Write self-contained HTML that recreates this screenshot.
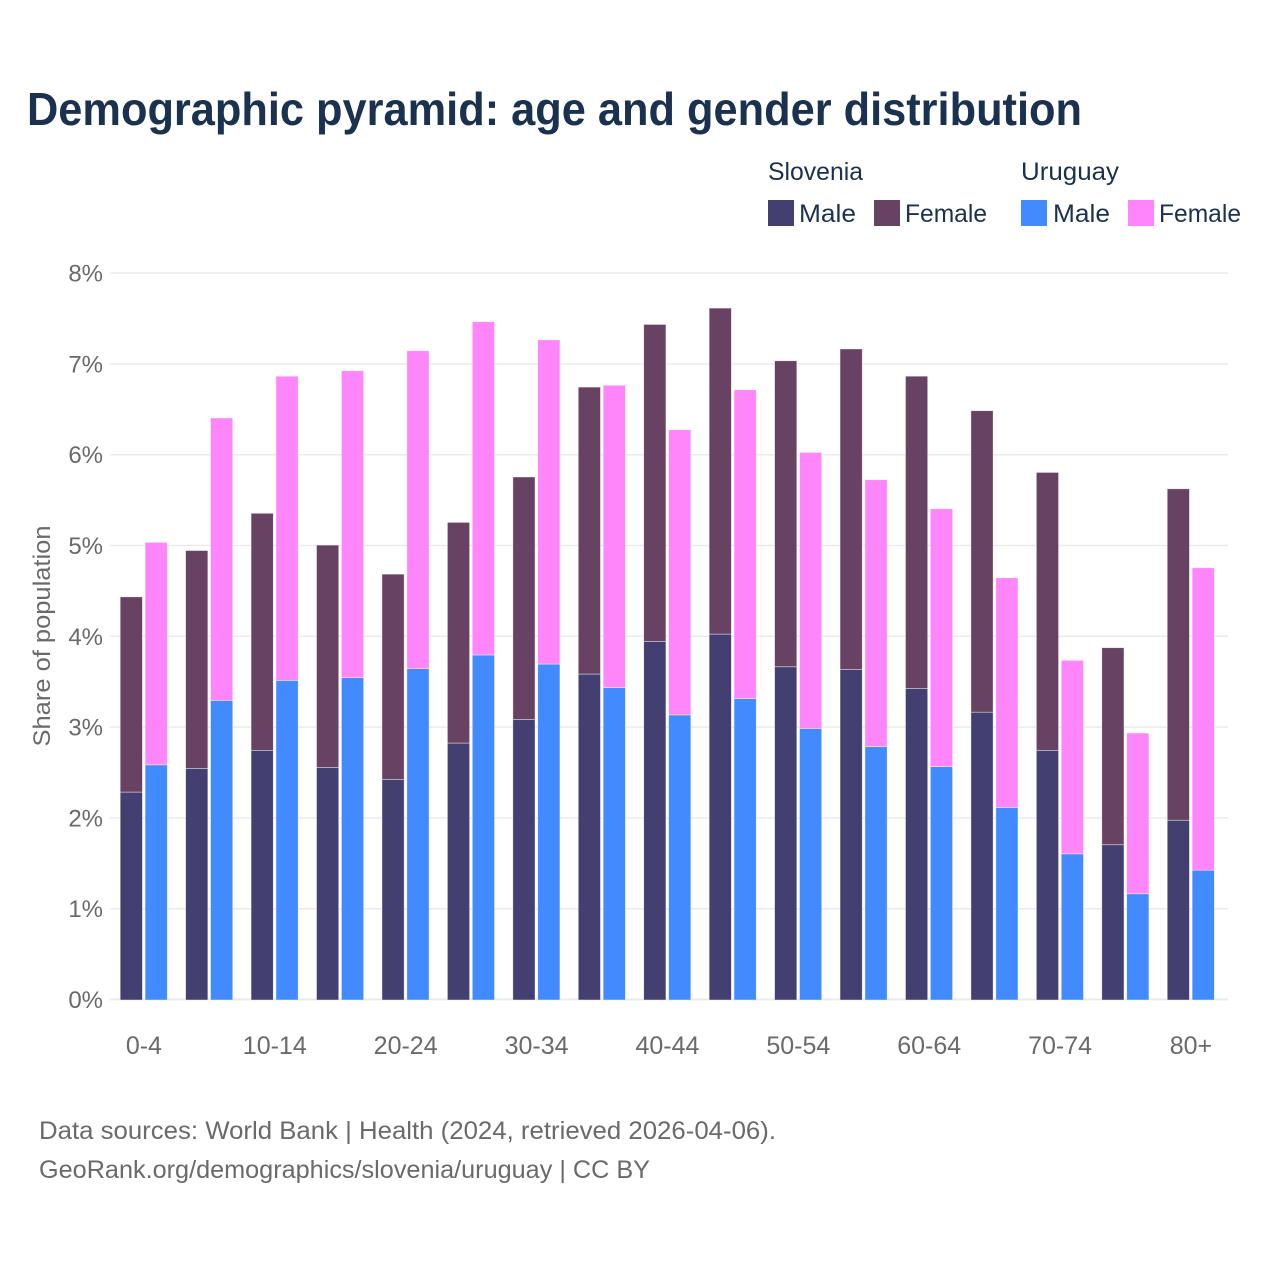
<!DOCTYPE html>
<html>
<head>
<meta charset="utf-8">
<title>Demographic pyramid</title>
<style>
html,body{margin:0;padding:0;background:#fff;width:1280px;height:1280px;overflow:hidden}
svg{display:block;font-family:"Liberation Sans",sans-serif}
</style>
</head>
<body>
<svg id="chart" width="1280" height="1280" viewBox="0 0 1280 1280">
<text x="27" y="125" font-size="46" font-weight="700" fill="#1a3150" textLength="1055" lengthAdjust="spacingAndGlyphs">Demographic pyramid: age and gender distribution</text>
<g font-size="25" fill="#1a3150">
<text x="768" y="180" textLength="95" lengthAdjust="spacingAndGlyphs">Slovenia</text>
<text x="1021" y="180" textLength="98" lengthAdjust="spacingAndGlyphs">Uruguay</text>
<rect x="768" y="200" width="26" height="26" fill="#433f70"/>
<text x="799" y="222" textLength="57" lengthAdjust="spacingAndGlyphs">Male</text>
<rect x="874" y="200" width="26" height="26" fill="#684262"/>
<text x="905" y="222" textLength="82" lengthAdjust="spacingAndGlyphs">Female</text>
<rect x="1021" y="200" width="26" height="26" fill="#418aff"/>
<text x="1053" y="222" textLength="57" lengthAdjust="spacingAndGlyphs">Male</text>
<rect x="1128" y="200" width="26" height="26" fill="#ff85fb"/>
<text x="1159" y="222" textLength="82" lengthAdjust="spacingAndGlyphs">Female</text>
</g>
<text transform="translate(50,636) rotate(-90)" text-anchor="middle" font-size="24" fill="#6a6a6a" textLength="221" lengthAdjust="spacingAndGlyphs">Share of population</text>
<g id="grid"></g>
<g id="bars"></g>
<g id="xaxis"></g>
<text x="39" y="1139" font-size="25" fill="#6a6a6a" textLength="737" lengthAdjust="spacingAndGlyphs">Data sources: World Bank | Health (2024, retrieved 2026-04-06).</text>
<text x="39" y="1178" font-size="25" fill="#6a6a6a" textLength="611" lengthAdjust="spacingAndGlyphs">GeoRank.org/demographics/slovenia/uruguay | CC BY</text>
</svg>
<script>
const ageGroups = ["0-4","5-9","10-14","15-19","20-24","25-29","30-34","35-39","40-44","45-49","50-54","55-59","60-64","65-69","70-74","75-79","80+"];
const sloveniaMale = [2.29,2.55,2.75,2.56,2.43,2.83,3.09,3.59,3.95,4.03,3.67,3.64,3.43,3.17,2.75,1.71,1.98];
const sloveniaFemale = [2.15,2.40,2.61,2.45,2.26,2.43,2.67,3.16,3.49,3.59,3.37,3.53,3.44,3.32,3.06,2.17,3.65];
const uruguayMale = [2.59,3.30,3.52,3.55,3.65,3.80,3.70,3.44,3.14,3.32,2.99,2.79,2.57,2.12,1.61,1.17,1.43];
const uruguayFemale = [2.45,3.11,3.35,3.38,3.50,3.67,3.57,3.33,3.14,3.40,3.04,2.94,2.84,2.53,2.13,1.77,3.33];
const yTicks = [0,1,2,3,4,5,6,7,8];
const xTickLabels = ["0-4","10-14","20-24","30-34","40-44","50-54","60-64","70-74","80+"];

const NS = "http://www.w3.org/2000/svg";
const y = v => 999.5 - v * 90.8;
const x = i => 143.9 + i * 65.44;
function make(tag, attrs, parent, txt) {
  const el = document.createElementNS(NS, tag);
  for (const k in attrs) el.setAttribute(k, attrs[k]);
  if (txt !== undefined) el.textContent = txt;
  parent.appendChild(el);
  return el;
}
const grid = document.getElementById("grid");
yTicks.forEach(t => {
  const ln = make("line", {x1:110, x2:1228, y1:y(t), y2:y(t), stroke:"#ebebeb", "stroke-width":t === 0 ? 2 : 1.5}, grid);
  
  
  const lb = make("text", {x:103, y:y(t) + 8.5, "text-anchor":"end", "font-size":24, fill:"#6a6a6a"}, grid, t + "%");
  
  
});
const bars = document.getElementById("bars");
function seg(left, base, val, fill) {
  const r = make("rect", {x:left, y:y(base + val) + 0.5, width:22.2, height:y(base) - y(base + val), fill:fill, stroke:"#ffffff", "stroke-opacity":0.6, "stroke-width":0.7}, bars);
  return r;
}
ageGroups.forEach((g, i) => {
  const c = x(i);
  const a = seg(c - 23.7, 0, sloveniaMale[i], "#433f70");
  
  
  const b = seg(c - 23.7, sloveniaMale[i], sloveniaFemale[i], "#684262");
  
  
  const d = seg(c + 1.2, 0, uruguayMale[i], "#418aff");
  
  
  const e = seg(c + 1.2, uruguayMale[i], uruguayFemale[i], "#ff85fb");
  
  
});
const xaxis = document.getElementById("xaxis");
xTickLabels.forEach(l => {
  const lb = make("text", {x:x(ageGroups.indexOf(l)), y:1054, "text-anchor":"middle", "font-size":25, fill:"#6a6a6a"}, xaxis, l);
  
  
});
</script>
</body>
</html>
